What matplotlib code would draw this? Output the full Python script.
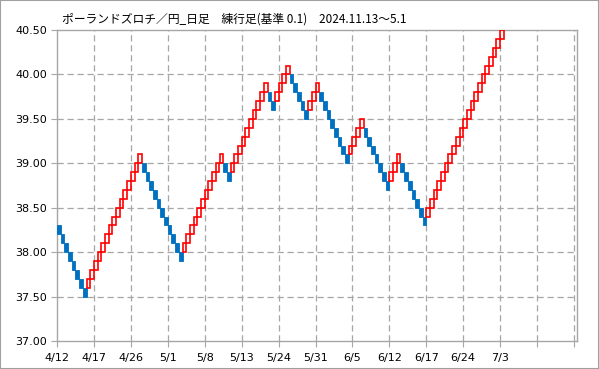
import matplotlib
matplotlib.use("Agg")
import matplotlib.pyplot as plt
from matplotlib.patches import Rectangle

# Renko (練行足) turning levels, brick size 0.1
brick_size = 0.1
pivots = [38.3, 37.5, 39.1, 37.9, 39.1, 38.8, 39.9, 39.6, 40.1, 39.5,
          39.9, 39.0, 39.5, 38.7, 39.1, 38.3, 40.5]
tick_labels = ["4/12", "4/17", "4/26", "5/1", "5/8", "5/13", "5/24",
               "5/31", "6/5", "6/12", "6/17", "6/24", "7/3", "", ""]
y_ticks = [37.0, 37.5, 38.0, 38.5, 39.0, 39.5, 40.0, 40.5]
title = "ポーランドズロチ／円_日足　練行足(基準 0.1)　2024.11.13～5.1"

# build bricks (in tenths to avoid float drift)
bricks = []  # (low, direction)
p = [round(v * 10) for v in pivots]
level = p[0]
while level > p[1]:
    bricks.append((level - 1, -1))
    level -= 1
for k in range(2, len(p)):
    prev = p[k - 1]
    target = p[k]
    if target > prev:
        level = prev + 1
        while level < target:
            bricks.append((level, 1))
            level += 1
    else:
        level = prev - 1
        while level > target:
            bricks.append((level - 1, -1))
            level -= 1

plt.rcParams['font.family'] = ['DejaVu Sans', 'Noto Sans CJK JP']

fig = plt.figure(figsize=(5.99, 3.69), dpi=100)
ax = fig.add_axes([57 / 599, 1 - 341 / 369, (577 - 57) / 599, (341 - 30) / 369])

grid_c = "#A6A6A6"
for i, (low, d) in enumerate(bricks):
    y0 = low * brick_size
    if d > 0:
        r = Rectangle((i, y0), 1, brick_size, facecolor="none",
                      edgecolor="#FF0000", linewidth=1.2, zorder=3)
    else:
        r = Rectangle((i, y0), 1, brick_size, facecolor="#0070C0",
                      edgecolor="#0070C0", linewidth=0.6, zorder=3)
    ax.add_patch(r)

ax.set_xlim(0, 140.8)
ax.set_ylim(37.0, 40.5)
xt = [i * 10 for i in range(len(tick_labels))]
ax.set_xticks(xt)
ax.set_xticklabels(tick_labels)
ax.set_yticks(y_ticks)
ax.set_yticklabels([f"{v:.2f}" for v in y_ticks])

for x in xt[1:]:
    ax.axvline(x, color=grid_c, linestyle=(0, (5, 3)), linewidth=0.9, zorder=1)
for y in y_ticks[1:-1]:
    ax.axhline(y, color=grid_c, linestyle=(0, (5, 3)), linewidth=0.9, zorder=1)

for s in ax.spines.values():
    s.set_color(grid_c)
    s.set_linewidth(1.0)

ax.tick_params(axis='both', colors=grid_c, labelcolor="black", labelsize=8,
               length=4, width=0.8, direction='out')
ax.tick_params(axis='x', pad=5)
ax.tick_params(axis='y', pad=3)

fig.text(62 / 599, 1 - 19 / 369, title, fontsize=8.5, va='center', ha='left',
         family=['Noto Sans CJK JP', 'DejaVu Sans'])

fig.patches.append(Rectangle((0, 0), 1, 1, transform=fig.transFigure,
                             fill=False, edgecolor="#A0A0A0", linewidth=1.5))

fig.savefig("out.png", dpi=100)
